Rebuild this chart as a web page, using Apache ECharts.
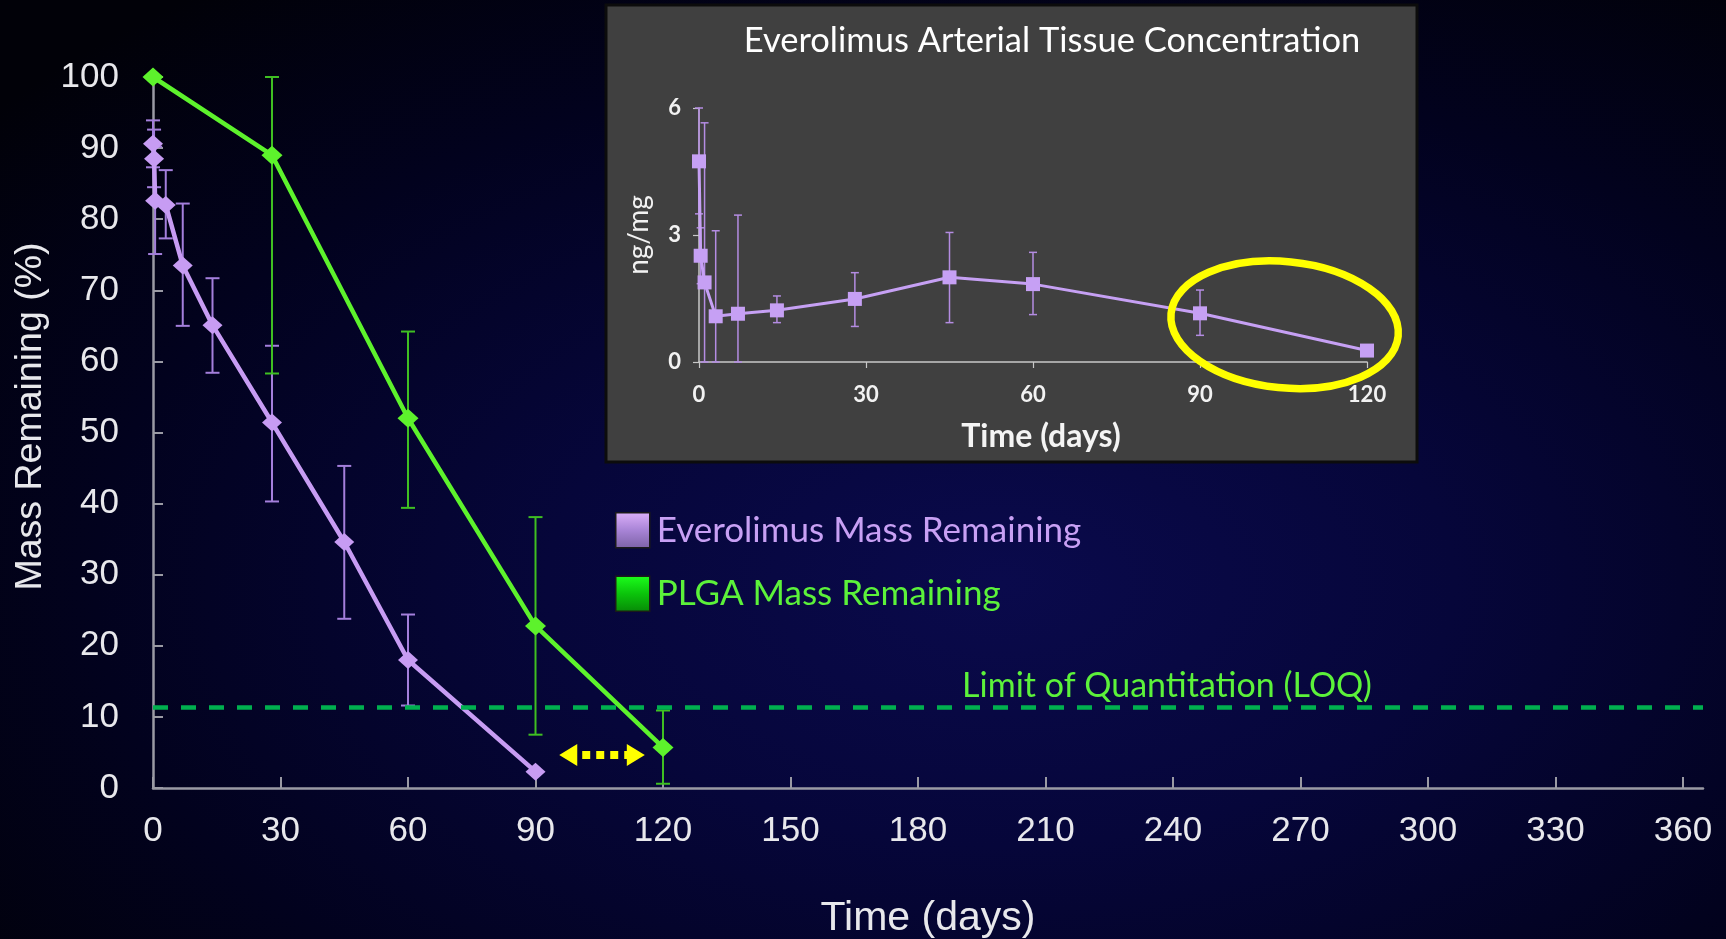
<!DOCTYPE html>
<html>
<head>
<meta charset="utf-8">
<script src="https://cdn.jsdelivr.net/npm/echarts@6/dist/echarts.min.js"></script>
<style>
html,body{margin:0;padding:0;width:1726px;height:939px;overflow:hidden;}
body{background:radial-gradient(ellipse 75% 80% at 58% 62%, #0a0a4c 0%, #06063a 35%, #02021e 70%, #010108 100%);}
#c{width:1726px;height:939px;}
</style>
</head>
<body>
<div id="c"></div>
<script>
// ---- Main chart data (mass remaining, %) ----
const everoDays = [0, 0.25, 0.5, 3, 7, 14, 28, 45, 60, 90];
const everoMass = [90.6, 88.5, 82.6, 82.0, 73.5, 65.1, 51.4, 34.6, 18.0, 2.3];
const everoLow  = [87.3, 84.5, 75.1, 77.3, 65.0, 58.4, 40.3, 23.8, 11.6, null];
const everoHigh = [93.9, 92.6, 90.2, 86.9, 82.2, 71.7, 62.2, 45.3, 24.4, null];

const plgaDays = [0, 28, 60, 90, 120];
const plgaMass = [100, 89.0, 52.0, 22.8, 5.7];
const plgaLow  = [null, 58.3, 39.4, 7.5, 0.6];
const plgaHigh = [null, 100, 64.2, 38.1, 10.9];

const loqValue = 11.4;
const gapArrow = [[97.7, 4.65], [113.6, 4.65]];

const mainXTicks = [0, 30, 60, 90, 120, 150, 180, 210, 240, 270, 300, 330, 360];
const mainYTicks = [0, 10, 20, 30, 40, 50, 60, 70, 80, 90, 100];

// ---- Inset data (arterial tissue concentration, ng/mg) ----
const tissueDays = [0, 0.3, 1, 3, 7, 14, 28, 45, 60, 90, 120];
const tissueConc = [4.74, 2.51, 1.88, 1.08, 1.14, 1.22, 1.49, 2.0, 1.84, 1.15, 0.27];
const tissueLow  = [3.5, 1.85, 0, 0, 0, 0.93, 0.84, 0.93, 1.12, 0.63, null];
const tissueHigh = [6.0, 3.17, 5.65, 3.1, 3.47, 1.56, 2.11, 3.06, 2.59, 1.70, null];
const insetXTicks = [0, 30, 60, 90, 120];
const insetYTicks = [0, 3, 6];
const highlightCenter = [105.2, 0.88];
const highlightRadius = [20.5, 1.49];

const pairs = (xs, ys) => xs.map((x, i) => [x, ys[i]]);
const bars = (xs, lo, hi) => xs.map((x, i) => [x, lo[i], hi[i]]).filter(d => d[1] != null);

function errRender(capHalf, color, width) {
  return function (params, api) {
    const x = api.value(0);
    const p1 = api.coord([x, api.value(1)]);
    const p2 = api.coord([x, api.value(2)]);
    const st = { stroke: color, lineWidth: width };
    return {
      type: 'group',
      children: [
        { type: 'line', shape: { x1: p1[0], y1: p1[1], x2: p2[0], y2: p2[1] }, style: st },
        { type: 'line', shape: { x1: p1[0] - capHalf, y1: p1[1], x2: p1[0] + capHalf, y2: p1[1] }, style: st },
        { type: 'line', shape: { x1: p2[0] - capHalf, y1: p2[1], x2: p2[0] + capHalf, y2: p2[1] }, style: st }
      ]
    };
  };
}

const PURPLE = '#c79cf3';
const GREEN = '#5df22c';
const SANS = '"Liberation Sans", Arial, sans-serif';
const CAL = 'Lato, "Open Sans", sans-serif';

const chart = echarts.init(document.getElementById('c'), null, { renderer: 'canvas' });

const boxRect = {
  type: 'rect', z: -5, silent: true,
  shape: { x: 606, y: 5, width: 811, height: 457 },
  style: { fill: '#404040', stroke: '#0c0c0c', lineWidth: 3 }
};
const insetTitle = {
  type: 'text', z: 10, silent: true, x: 1052, y: 41,
  style: { text: 'Everolimus Arterial Tissue Concentration', fill: '#ffffff', font: '34.5px Lato, "Open Sans", sans-serif', textAlign: 'center', textVerticalAlign: 'middle' }
};

const option = {
  backgroundColor: 'transparent',
  animation: false,
  grid: [
    { left: 153, top: 77, right: 23, bottom: 151, containLabel: false, outerBoundsMode: 'none' },
    { left: 699, top: 108, right: 359, bottom: 577, containLabel: false, outerBoundsMode: 'none' }
  ],
  xAxis: [
    {
      gridIndex: 0, type: 'value', min: 0, max: 364.7,
      axisLine: { show: true, lineStyle: { color: '#9a9aa4', width: 2.5 } },
      axisTick: { show: true, inside: true, length: 11, lineStyle: { color: '#9a9aa4', width: 2 }, customValues: mainXTicks },
      axisLabel: { customValues: mainXTicks, color: '#e8e8ec', fontSize: 35, fontFamily: SANS, margin: 26 },
      splitLine: { show: false },
      name: 'Time (days)', nameLocation: 'middle', nameGap: 110,
      nameTextStyle: { color: '#e8e8ec', fontSize: 41, fontFamily: SANS }
    },
    {
      gridIndex: 1, type: 'value', min: 0, max: 120, interval: 30,
      axisLine: { show: true, onZero: false, lineStyle: { color: '#c8c8c8', width: 1.5 } },
      axisTick: { show: true, length: 6, lineStyle: { color: '#c8c8c8', width: 1.2 } },
      axisLabel: { customValues: insetXTicks, color: '#f2f2f2', fontSize: 22, fontWeight: 'bold', fontFamily: CAL, margin: 22 },
      splitLine: { show: false },
      name: 'Time (days)', nameLocation: 'middle', nameGap: 59,
      nameTextStyle: { color: '#f4f4f4', fontSize: 32, fontWeight: 'bold', fontFamily: CAL, padding: [0, 0, 0, 16] }
    }
  ],
  yAxis: [
    {
      gridIndex: 0, type: 'value', min: 0, max: 100, interval: 10,
      axisLine: { show: true, lineStyle: { color: '#9a9aa4', width: 2.5 } },
      axisTick: { show: true, inside: true, length: 10, lineStyle: { color: '#9a9aa4', width: 2 } },
      axisLabel: { customValues: mainYTicks, color: '#e8e8ec', fontSize: 35, fontFamily: SANS, margin: 34 },
      splitLine: { show: false },
      name: 'Mass Remaining (%)', nameLocation: 'middle', nameGap: 101,
      nameTextStyle: { color: '#e8e8ec', fontSize: 37.5, fontFamily: SANS, padding: [0, 0, 0, 32] }
    },
    {
      gridIndex: 1, type: 'value', min: 0, max: 6, interval: 3,
      axisLine: { show: true, lineStyle: { color: '#c8c8c8', width: 1.5 } },
      axisTick: { show: true, length: 6, lineStyle: { color: '#c8c8c8', width: 1.2 } },
      axisLabel: { customValues: insetYTicks, color: '#f2f2f2', fontSize: 22, fontWeight: 'bold', fontFamily: CAL, margin: 18 },
      splitLine: { show: false },
      name: 'ng/mg', nameLocation: 'middle', nameGap: 46,
      nameTextStyle: { color: '#f2f2f2', fontSize: 28, fontFamily: CAL }
    }
  ],
  legend: {
    show: true, selectedMode: false, orient: 'vertical',
    left: 615, top: 512, padding: 0,
    itemWidth: 34, itemHeight: 35, itemGap: 27,
    textStyle: { fontSize: 35, fontFamily: CAL, padding: [11, 0, 0, 2] },
    data: [
      {
        name: 'Everolimus Mass Remaining', icon: 'rect',
        itemStyle: {
          color: new echarts.graphic.LinearGradient(0, 0, 0, 1, [
            { offset: 0, color: '#dcb0fa' }, { offset: 0.5, color: '#a884d6' }, { offset: 1, color: '#7c62a6' }
          ]),
          borderColor: '#1a1a1a', borderWidth: 1.5
        },
        textStyle: { color: '#c8a0f4' }
      },
      {
        name: 'PLGA Mass Remaining', icon: 'rect',
        itemStyle: {
          color: new echarts.graphic.LinearGradient(0, 0, 0, 1, [
            { offset: 0, color: '#1cff1c' }, { offset: 0.5, color: '#0bc40b' }, { offset: 1, color: '#078a07' }
          ]),
          borderColor: '#1a1a1a', borderWidth: 1.5
        },
        textStyle: { color: '#5cf23a' }
      }
    ]
  },
  series: [
    {
      name: 'Everolimus error', type: 'custom', xAxisIndex: 0, yAxisIndex: 0, z: 1, clip: false,
      renderItem: errRender(7, '#a47fdc', 2), data: bars(everoDays, everoLow, everoHigh)
    },
    {
      name: 'PLGA error', type: 'custom', xAxisIndex: 0, yAxisIndex: 0, z: 1, clip: false,
      renderItem: errRender(7, '#3fbf22', 2), data: bars(plgaDays, plgaLow, plgaHigh)
    },
    {
      name: 'PLGA Mass Remaining', type: 'line', xAxisIndex: 0, yAxisIndex: 0, z: 3,
      data: pairs(plgaDays, plgaMass),
      symbol: 'diamond', symbolSize: [21, 19], showSymbol: true,
      lineStyle: { color: GREEN, width: 4.5 }, itemStyle: { color: GREEN },
      markLine: {
        silent: true, symbol: ['none', 'none'], animation: false,
        data: [
          {
            yAxis: loqValue,
            lineStyle: { color: '#00b04f', width: 4.5, type: [15, 13] },
            label: {
              show: true, formatter: 'Limit of Quantitation (LOQ)', position: 'insideMiddleTop',
              distance: 4, offset: [239, 0], color: '#5cf23a', fontSize: 34, fontFamily: CAL
            }
          },
          [
            {
              coord: gapArrow[0], symbol: 'triangle', symbolSize: [22, 18], symbolRotate: 90,
              lineStyle: { color: '#ffff00', width: 8, type: [8, 6] },
              label: { show: false }, itemStyle: { color: '#ffff00' }
            },
            {
              coord: gapArrow[1], symbol: 'triangle', symbolSize: [22, 18], symbolRotate: -90,
              itemStyle: { color: '#ffff00' }
            }
          ]
        ]
      }
    },
    {
      name: 'Everolimus Mass Remaining', type: 'line', xAxisIndex: 0, yAxisIndex: 0, z: 4,
      data: pairs(everoDays, everoMass),
      symbol: 'diamond', symbolSize: [20, 18], showSymbol: true,
      lineStyle: { color: PURPLE, width: 4.5 }, itemStyle: { color: PURPLE }
    },
    {
      name: 'Tissue error', type: 'custom', xAxisIndex: 1, yAxisIndex: 1, z: 5, clip: false,
      renderItem: errRender(4, '#b48ce2', 1.5), data: bars(tissueDays, tissueLow, tissueHigh)
    },
    {
      name: 'Everolimus Arterial Tissue Concentration', type: 'line', xAxisIndex: 1, yAxisIndex: 1, z: 6,
      data: pairs(tissueDays, tissueConc),
      symbol: 'rect', symbolSize: 14, showSymbol: true,
      lineStyle: { color: '#c6a0f4', width: 3 }, itemStyle: { color: '#c6a0f4' }
    }
  ],
  graphic: [boxRect, insetTitle]
};

chart.setOption(option);

// highlight ellipse around the last two inset points, positioned from data
const c0 = chart.convertToPixel({ gridIndex: 1 }, highlightCenter);
const c1 = chart.convertToPixel({ gridIndex: 1 }, [highlightCenter[0] + highlightRadius[0], highlightCenter[1] + highlightRadius[1]]);
chart.setOption({
  graphic: [
    boxRect, insetTitle,
    {
      type: 'ellipse', z: 20, silent: true,
      x: c0[0], y: c0[1], rotation: -0.1,
      shape: { cx: 0, cy: 0, rx: Math.abs(c1[0] - c0[0]), ry: Math.abs(c1[1] - c0[1]) },
      style: { fill: 'none', stroke: '#ffff00', lineWidth: 7.5 }
    }
  ]
});
</script>
</body>
</html>
